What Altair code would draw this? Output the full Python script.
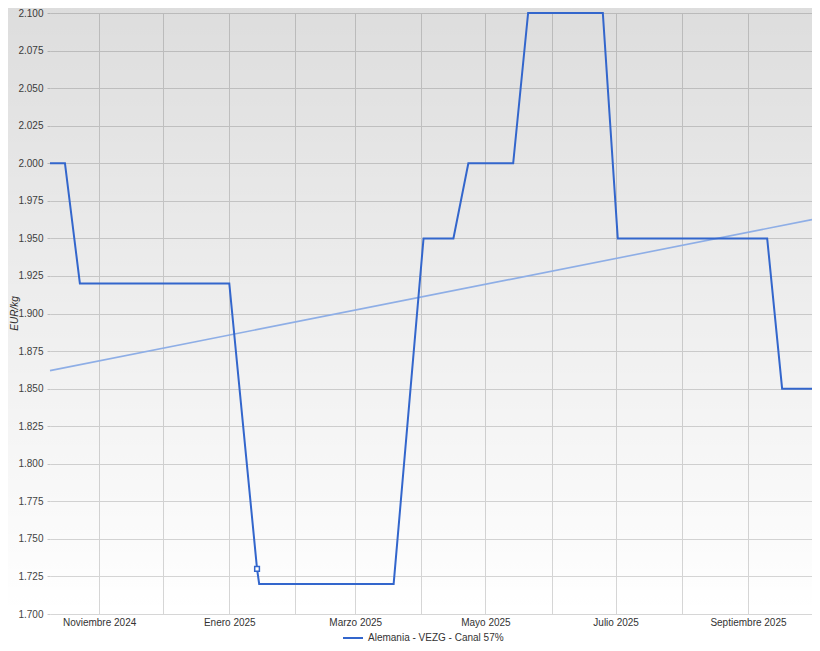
import altair as alt
import pandas as pd

# ---- data ----
dates = ["2024-10-09", "2024-10-16", "2024-10-23", "2025-01-01", "2025-01-14",
         "2025-01-15", "2025-03-19", "2025-04-02", "2025-04-16", "2025-04-23",
         "2025-05-14", "2025-05-21", "2025-06-25", "2025-07-02", "2025-09-10",
         "2025-09-17", "2025-10-01"]
prices = [2.000, 2.000, 1.920, 1.920, 1.730,
          1.720, 1.720, 1.950, 1.950, 2.000,
          2.000, 2.100, 2.100, 1.950, 1.950,
          1.850, 1.850]
series_name = "Alemania - VEZG - Canal 57%"

trend_dates = ["2024-10-09", "2025-10-01"]
trend_values = [1.862, 1.9625]

marker_dates = ["2025-01-14"]
marker_values = [1.730]

y_ticks = [1.700, 1.725, 1.750, 1.775, 1.800, 1.825, 1.850, 1.875, 1.900,
           1.925, 1.950, 1.975, 2.000, 2.025, 2.050, 2.075, 2.100]
month_ticks = [(2024, 11), (2024, 12), (2025, 1), (2025, 2), (2025, 3), (2025, 4),
               (2025, 5), (2025, 6), (2025, 7), (2025, 8), (2025, 9)]
month_names = ["Enero", "Febrero", "Marzo", "Abril", "Mayo", "Junio", "Julio",
               "Agosto", "Septiembre", "Octubre", "Noviembre", "Diciembre"]

BLUE = "#3366cc"
TREND = "#8eaee6"
FONT = "Liberation Sans"
FS = 10

df = pd.DataFrame({"date": dates, "price": prices, "series": series_name})
trend_df = pd.DataFrame({"date": trend_dates, "price": trend_values})
marker_df = pd.DataFrame({"date": marker_dates, "price": marker_values})

names_js = "[" + ",".join("'%s'" % m for m in month_names) + "]"
label_expr = ("utcmonth(datum.value) % 2 == 0 ? " + names_js +
              "[utcmonth(datum.value)] + ' ' + utcyear(datum.value) : ''")

x_scale = alt.Scale(type="utc",
                    domain=[alt.DateTime(year=2024, month=10, date=9, utc=True),
                            alt.DateTime(year=2025, month=10, date=1, utc=True)])
y_scale = alt.Scale(domain=[1.7, 2.1], zero=False, nice=False)

x_axis = alt.Axis(
    title=None,
    values=[alt.DateTime(year=y, month=m, date=1, utc=True) for (y, m) in month_ticks],
    labelExpr=label_expr, labelOverlap=False, labelFont=FONT, labelFontSize=FS,
    labelColor="#333333", ticks=False, domain=False, labelPadding=3,
    grid=True, gridColor="#d6d6d6", gridWidth=1,
)
y_axis = alt.Axis(
    title="EUR/kg", titleFont=FONT, titleFontSize=10, titleFontStyle="italic",
    titleFontWeight="normal", titleColor="#333333",
    titleX=-36, titleY=300, titleAngle=270, titleAlign="center",
    titleBaseline="middle",
    values=y_ticks, format=".3f", labelFont=FONT, labelFontSize=FS,
    labelColor="#444444", ticks=True, tickSize=3, tickColor="#cccccc",
    labelPadding=4, domain=False, grid=True, gridColor="#d6d6d6", gridWidth=1,
)

gradient = {
    "gradient": "linear", "x1": 0, "y1": 0, "x2": 0, "y2": 1,
    "stops": [{"offset": 0, "color": "rgba(0,0,0,0.135)"},
              {"offset": 1, "color": "rgba(0,0,0,0)"}],
}

bg = alt.Chart(alt.Data(values=[{"k": 1}])).mark_rect(color=gradient).encode(
    x=alt.value(-42), x2=alt.value(762), y=alt.value(-5), y2=alt.value(601)
)

trend = alt.Chart(trend_df).mark_line(color=TREND, strokeWidth=1.6).encode(
    x=alt.X("date:T", scale=x_scale, axis=x_axis),
    y=alt.Y("price:Q", scale=y_scale, axis=y_axis),
)

line = alt.Chart(df).mark_line(strokeWidth=2).encode(
    x=alt.X("date:T", scale=x_scale, axis=x_axis),
    y=alt.Y("price:Q", scale=y_scale, axis=y_axis),
    color=alt.Color(
        "series:N",
        scale=alt.Scale(range=[BLUE]),
        legend=alt.Legend(
            title=None, orient="none", legendX=292, legendY=614,
            symbolType="stroke", symbolSize=400, symbolStrokeWidth=2,
            labelFont=FONT, labelFontSize=FS, labelColor="#333333",
            labelOffset=4,
        ),
    ),
)

marker = alt.Chart(marker_df).mark_point(
    shape="square", filled=True, fill="#ffffff", stroke=BLUE,
    strokeWidth=1.5, size=22, opacity=1
).encode(
    x=alt.X("date:T", scale=x_scale, axis=x_axis),
    y=alt.Y("price:Q", scale=y_scale, axis=y_axis),
)

chart = alt.layer(bg, trend, line, marker).properties(
    width=762, height=601,
    autosize=alt.AutoSizeParams(type="none"),
    padding={"left": 42, "top": 5, "right": 0, "bottom": 29},
    background="#ffffff",
).configure_view(stroke=None)

chart.save("out.html", embed_options={"renderer": "svg", "actions": False})
